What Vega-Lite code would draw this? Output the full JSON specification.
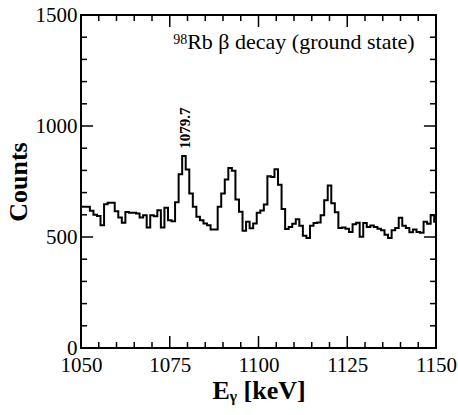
{
  "$schema": "https://vega.github.io/schema/vega-lite/v6.json",
  "width": 355,
  "height": 333,
  "autosize": "none",
  "padding": {"left": 81, "top": 15, "right": 22, "bottom": 67},
  "background": "white",
  "config": {"view": {"stroke": "black", "strokeWidth": 2}, "axis": {"ticks": false, "domain": false, "grid": false}},
  "datasets": {
    "xmaj": [{"v":1075},{"v":1100},{"v":1125}],
    "xmin": [{"v":1055},{"v":1060},{"v":1065},{"v":1070},{"v":1080},{"v":1085},{"v":1090},{"v":1095},{"v":1105},{"v":1110},{"v":1115},{"v":1120},{"v":1130},{"v":1135},{"v":1140},{"v":1145}],
    "ymaj": [{"v":500},{"v":1000}],
    "ymin": [{"v":100},{"v":200},{"v":300},{"v":400},{"v":600},{"v":700},{"v":800},{"v":900},{"v":1100},{"v":1200},{"v":1300},{"v":1400}]
  },
  "layer": [
    {
      "data": {"values": [
        {"E":1050,"counts":636},{"E":1051,"counts":636},{"E":1052,"counts":636},{"E":1053,"counts":618},{"E":1054,"counts":600},
        {"E":1055,"counts":595},{"E":1056,"counts":553},{"E":1057,"counts":648},{"E":1058,"counts":654},{"E":1059,"counts":654},
        {"E":1060,"counts":616},{"E":1061,"counts":588},{"E":1062,"counts":564},{"E":1063,"counts":613},{"E":1064,"counts":609},
        {"E":1065,"counts":609},{"E":1066,"counts":606},{"E":1067,"counts":588},{"E":1068,"counts":598},{"E":1069,"counts":543},
        {"E":1070,"counts":598},{"E":1071,"counts":594},{"E":1072,"counts":621},{"E":1073,"counts":543},{"E":1074,"counts":632},
        {"E":1075,"counts":576},{"E":1076,"counts":571},{"E":1077,"counts":656},{"E":1078,"counts":783},{"E":1079,"counts":865},
        {"E":1080,"counts":804},{"E":1081,"counts":696},{"E":1082,"counts":636},{"E":1083,"counts":591},{"E":1084,"counts":576},
        {"E":1085,"counts":561},{"E":1086,"counts":553},{"E":1087,"counts":534},{"E":1088,"counts":534},{"E":1089,"counts":636},
        {"E":1090,"counts":696},{"E":1091,"counts":759},{"E":1092,"counts":811},{"E":1093,"counts":798},{"E":1094,"counts":669},
        {"E":1095,"counts":614},{"E":1096,"counts":528},{"E":1097,"counts":569},{"E":1098,"counts":539},{"E":1099,"counts":561},
        {"E":1100,"counts":609},{"E":1101,"counts":619},{"E":1102,"counts":646},{"E":1103,"counts":774},{"E":1104,"counts":770},
        {"E":1105,"counts":805},{"E":1106,"counts":735},{"E":1107,"counts":626},{"E":1108,"counts":536},{"E":1109,"counts":545},
        {"E":1110,"counts":560},{"E":1111,"counts":580},{"E":1112,"counts":551},{"E":1113,"counts":506},{"E":1114,"counts":496},
        {"E":1115,"counts":551},{"E":1116,"counts":563},{"E":1117,"counts":565},{"E":1118,"counts":598},{"E":1119,"counts":666},
        {"E":1120,"counts":732},{"E":1121,"counts":652},{"E":1122,"counts":611},{"E":1123,"counts":541},{"E":1124,"counts":543},
        {"E":1125,"counts":537},{"E":1126,"counts":523},{"E":1127,"counts":557},{"E":1128,"counts":564},{"E":1129,"counts":501},
        {"E":1130,"counts":563},{"E":1131,"counts":545},{"E":1132,"counts":552},{"E":1133,"counts":545},{"E":1134,"counts":537},
        {"E":1135,"counts":530},{"E":1136,"counts":510},{"E":1137,"counts":496},{"E":1138,"counts":530},{"E":1139,"counts":540},
        {"E":1140,"counts":587},{"E":1141,"counts":551},{"E":1142,"counts":540},{"E":1143,"counts":521},{"E":1144,"counts":534},
        {"E":1145,"counts":523},{"E":1146,"counts":519},{"E":1147,"counts":569},{"E":1148,"counts":560},{"E":1149,"counts":598},
        {"E":1150,"counts":569}
      ]},
      "mark": {"type": "line", "interpolate": "step", "color": "black", "strokeWidth": 2},
      "encoding": {
        "x": {"field": "E", "type": "quantitative",
          "scale": {"domain": [1050, 1150], "nice": false, "zero": false},
          "axis": {"orient": "bottom",
            "values": [1050,1075,1100,1125,1150],
            "format": "d", "labelOverlap": false, "labelFlush": false,
            "labelFont": "Liberation Serif", "labelFontSize": 21, "labelColor": "black", "labelPadding": 6,
            "title": "Eᵧ [keV]", "titleFont": "Liberation Serif", "titleFontSize": 26, "titleFontWeight": "bold", "titleColor": "black", "titlePadding": 2}},
        "y": {"field": "counts", "type": "quantitative",
          "scale": {"domain": [0, 1500], "nice": false},
          "axis": {"orient": "left",
            "values": [0,500,1000,1500],
            "format": "d", "labelOverlap": false, "labelFlush": false,
            "labelFont": "Liberation Serif", "labelFontSize": 21, "labelColor": "black", "labelPadding": 4,
            "title": "Counts", "titleFont": "Liberation Serif", "titleFontSize": 26, "titleFontWeight": "bold", "titleColor": "black", "titlePadding": 4}}
      }
    },
    {
      "data": {"name": "xmaj"},
      "mark": {"type": "rule", "color": "black", "strokeWidth": 1.5},
      "encoding": {"x": {"field": "v", "type": "quantitative", "axis": null}, "y": {"datum": 0, "type": "quantitative", "axis": null}, "y2": {"datum": 54}}
    },
    {
      "data": {"name": "xmaj"},
      "mark": {"type": "rule", "color": "black", "strokeWidth": 1.5},
      "encoding": {"x": {"field": "v", "type": "quantitative", "axis": null}, "y": {"datum": 1500, "type": "quantitative", "axis": null}, "y2": {"datum": 1446}}
    },
    {
      "data": {"name": "xmin"},
      "mark": {"type": "rule", "color": "black", "strokeWidth": 1.5},
      "encoding": {"x": {"field": "v", "type": "quantitative", "axis": null}, "y": {"datum": 0, "type": "quantitative", "axis": null}, "y2": {"datum": 27}}
    },
    {
      "data": {"name": "xmin"},
      "mark": {"type": "rule", "color": "black", "strokeWidth": 1.5},
      "encoding": {"x": {"field": "v", "type": "quantitative", "axis": null}, "y": {"datum": 1500, "type": "quantitative", "axis": null}, "y2": {"datum": 1473}}
    },
    {
      "data": {"name": "ymaj"},
      "mark": {"type": "rule", "color": "black", "strokeWidth": 1.5},
      "encoding": {"y": {"field": "v", "type": "quantitative", "axis": null}, "x": {"datum": 1050, "type": "quantitative", "axis": null}, "x2": {"datum": 1053.4}}
    },
    {
      "data": {"name": "ymaj"},
      "mark": {"type": "rule", "color": "black", "strokeWidth": 1.5},
      "encoding": {"y": {"field": "v", "type": "quantitative", "axis": null}, "x": {"datum": 1150, "type": "quantitative", "axis": null}, "x2": {"datum": 1146.6}}
    },
    {
      "data": {"name": "ymin"},
      "mark": {"type": "rule", "color": "black", "strokeWidth": 1.5},
      "encoding": {"y": {"field": "v", "type": "quantitative", "axis": null}, "x": {"datum": 1050, "type": "quantitative", "axis": null}, "x2": {"datum": 1051.7}}
    },
    {
      "data": {"name": "ymin"},
      "mark": {"type": "rule", "color": "black", "strokeWidth": 1.5},
      "encoding": {"y": {"field": "v", "type": "quantitative", "axis": null}, "x": {"datum": 1150, "type": "quantitative", "axis": null}, "x2": {"datum": 1148.3}}
    },
    {
      "data": {"values": [{}]},
      "mark": {"type": "text", "font": "Liberation Serif", "fontSize": 22, "align": "left", "baseline": "alphabetic", "color": "black"},
      "encoding": {
        "text": {"value": "Rb β decay (ground state)"},
        "x": {"datum": 1079.9, "type": "quantitative", "axis": null},
        "y": {"datum": 1345, "type": "quantitative", "axis": null}
      }
    },
    {
      "data": {"values": [{}]},
      "mark": {"type": "text", "font": "Liberation Serif", "fontSize": 14, "align": "right", "baseline": "alphabetic", "color": "black"},
      "encoding": {
        "text": {"value": "98"},
        "x": {"datum": 1079.9, "type": "quantitative", "axis": null},
        "y": {"datum": 1368, "type": "quantitative", "axis": null}
      }
    },
    {
      "data": {"values": [{}]},
      "mark": {"type": "text", "font": "Liberation Serif", "fontSize": 15, "fontWeight": "bold", "angle": 270, "align": "center", "baseline": "middle", "color": "black"},
      "encoding": {
        "text": {"value": "1079.7"},
        "x": {"datum": 1079.2, "type": "quantitative", "axis": null},
        "y": {"datum": 990, "type": "quantitative", "axis": null}
      }
    }
  ],
  "resolve": {"axis": {"x": "independent", "y": "independent"}}
}
